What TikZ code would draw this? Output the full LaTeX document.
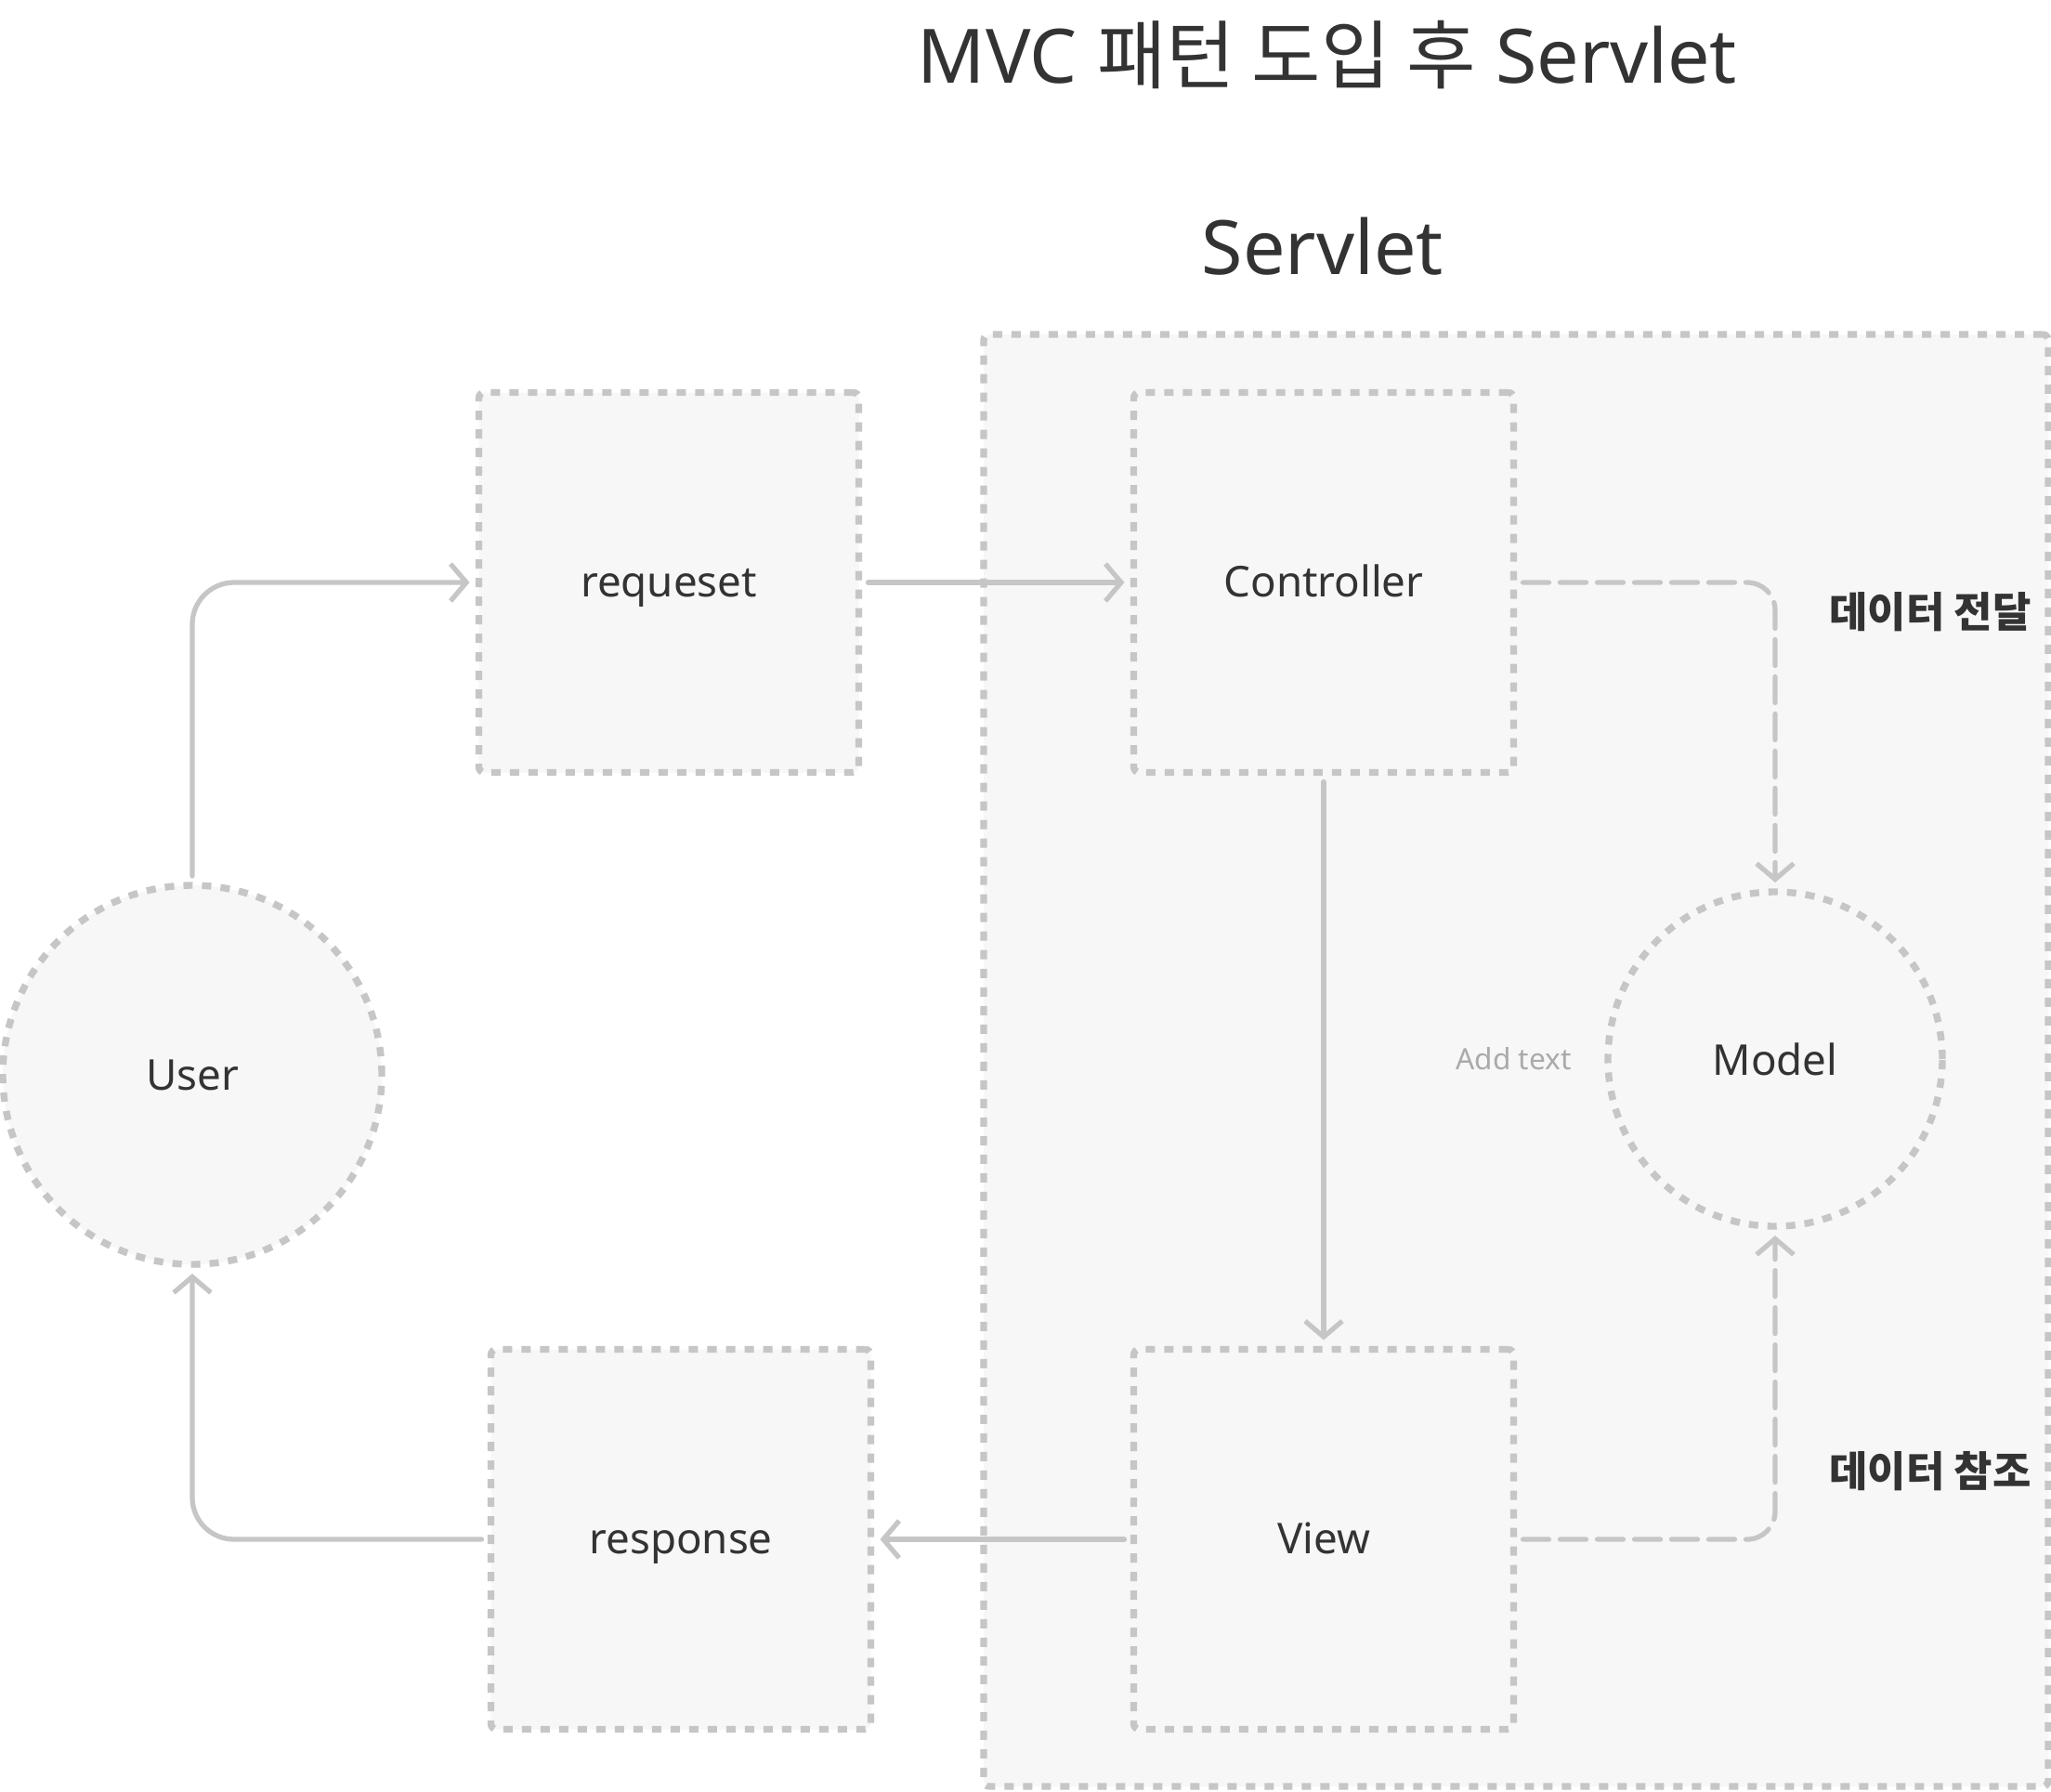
\documentclass[tikz,border=0pt]{standalone}
\usepackage{fontspec}
\setmainfont{Noto Sans}
\newfontfamily\krfont{Noto Sans CJK KR}
\usetikzlibrary{
  positioning,
  arrows.meta
}
\definecolor{mvLine}{HTML}{C6C6C6}
\definecolor{mvFill}{HTML}{F7F7F7}
\definecolor{mvText}{HTML}{333333}
\definecolor{mvHint}{HTML}{AAAAAA}

\begin{document}
\begin{tikzpicture}[
  every node/.style={font=\fontsize{13}{15}\selectfont, text=mvText, align=center},
  part/.style={
    rectangle, rounded corners=0.06cm,
    draw=mvLine, fill=mvFill, line width=2.1pt,
    dash pattern=on 0.1cm off 0.1cm,
    minimum width=4.09cm, minimum height=4.09cm, outer sep=0.1cm,
    text height=0.9em, text depth=0pt
  },
  actor/.style={
    circle, draw=mvLine, fill=mvFill, line width=2.1pt,
    dash pattern=on 0.1cm off 0.1cm, outer sep=0.1cm
  },
  frame/.style={
    rectangle, rounded corners=0.06cm,
    draw=mvLine, fill=mvFill, line width=2.1pt,
    dash pattern=on 0.1cm off 0.1cm,
    minimum width=11.46cm, minimum height=15.63cm
  },
  arrow/.style={
    draw=mvLine, line width=1.5pt, line cap=round, line join=round,
    -{Straight Barb[length=0.17cm, width=0.4cm]}, rounded corners=0.45cm
  },
  dataflow/.style={arrow, dash pattern=on 0.28cm off 0.12cm, rounded corners=0.3cm},
  heading/.style={font=\fontsize{23}{27}\selectfont},
  note/.style={font=\krfont\bfseries\fontsize{12.8}{15}\selectfont}
]
 \path[use as bounding box, fill=white] (0,0) rectangle (22.08,-19.28);

 % Titles
 \node[heading] (title) at (14.29,-0.59) {MVC {\krfont 패턴 도입 후} Servlet};
 \node[heading] (servletname) at (14.24,-2.65) {Servlet};

 % Servlet container
 \node[frame] (servlet) at (16.32,-11.415) {};

 % Boxes and circles
 \node[actor, minimum size=4.08cm] (user) at (2.07,-11.57) {User};
 \node[part] (req)  at ( 7.20,-6.27)  {requeset};
 \node[part] (ctrl) at (14.25,-6.27)  {Controller};
 \node[part] (view) at (14.25,-16.57) {View};
 \node[part] (resp) at ( 7.33,-16.57) {response};
 \node[actor, minimum size=3.6cm] (model) at (19.11,-11.40) {Model};
 \node[left=0.17cm of model, font=\fontsize{9}{11}\selectfont, text=mvHint] (hint) {Add text};

 % Labels
 \node[note] (pass) at (20.78,-6.59)  {데이터 전달};
 \node[note] (refr) at (20.78,-15.84) {데이터 참조};

 % Request / response flow
 \draw[arrow] (user) |- (req);
 \draw[arrow] (req) -- (ctrl);
 \draw[arrow] (ctrl) -- (view);
 \draw[arrow] (view) -- (resp);
 \draw[arrow] (resp) -| (user);

 % Data flow to the model
 \draw[dataflow] (ctrl) -| (model);
 \draw[dataflow] (view) -| (model);
\end{tikzpicture}
\end{document}
